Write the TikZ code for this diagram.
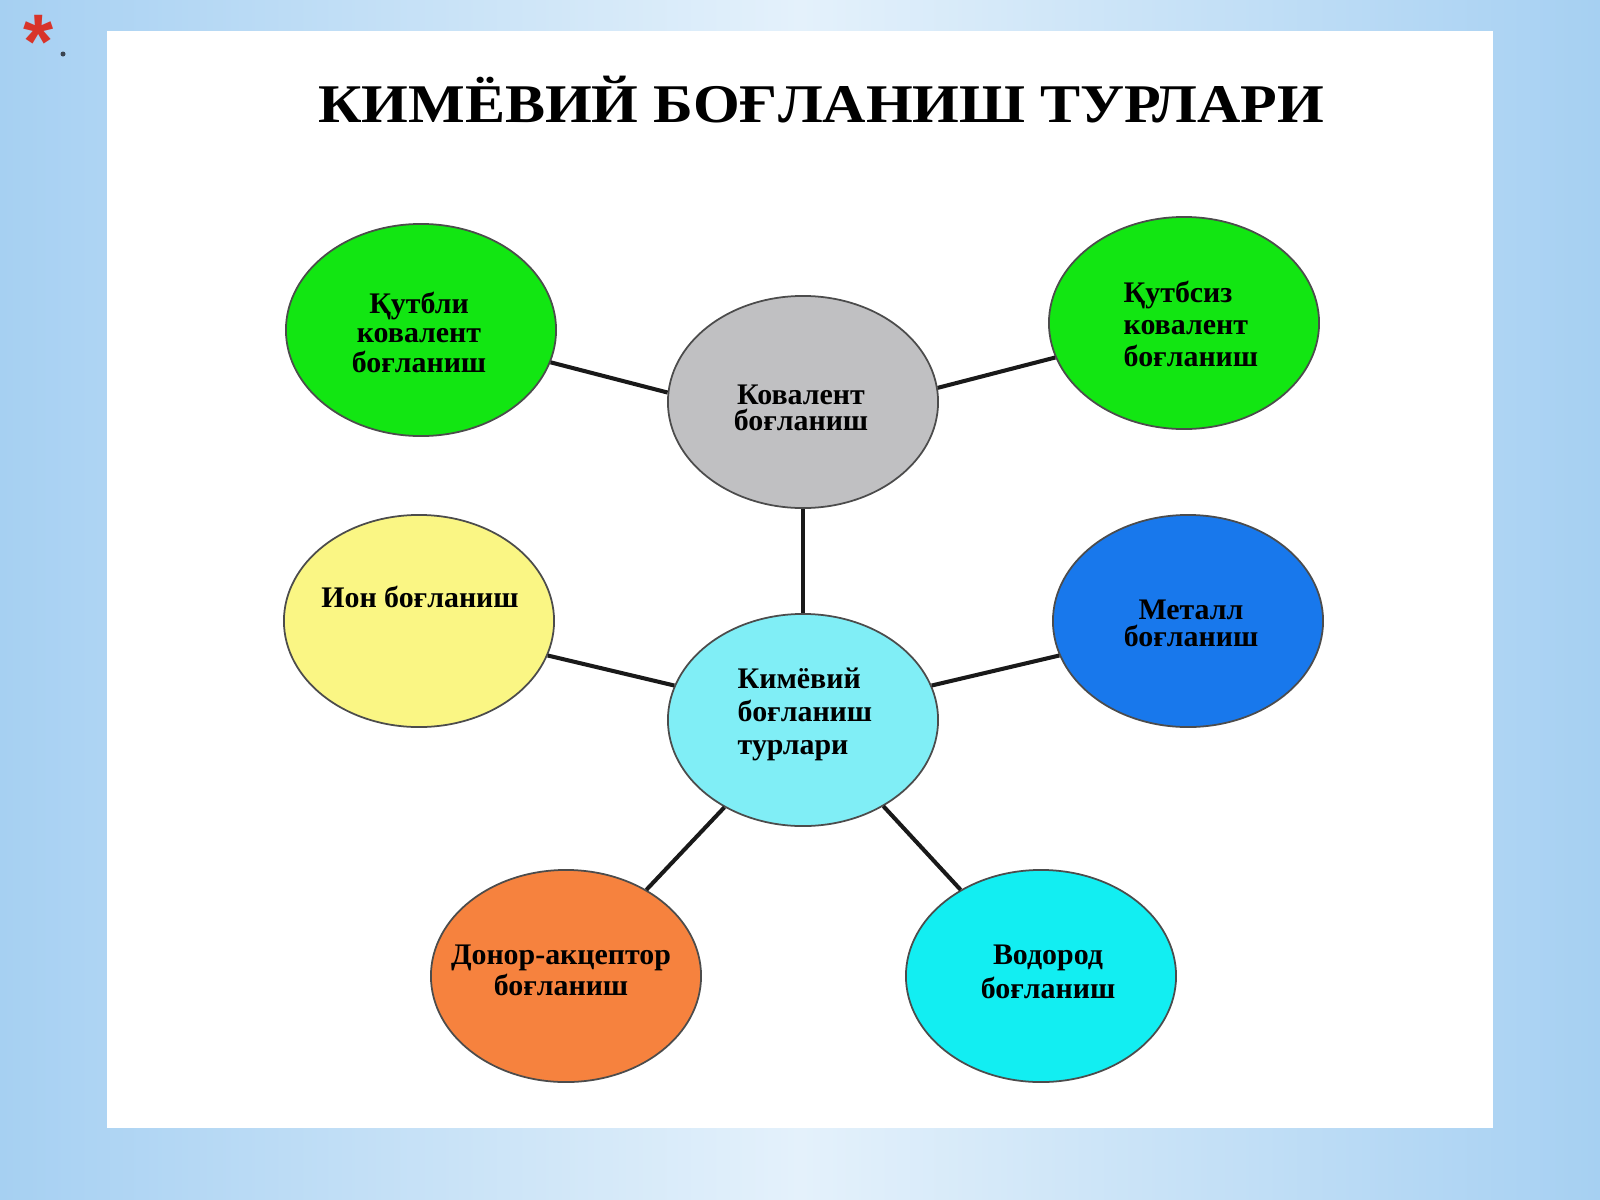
\documentclass[tikz,border=0pt]{standalone}
\usepackage{fontspec}
\setmainfont{Liberation Serif}
\usetikzlibrary{shapes.geometric}
\definecolor{bgedge}{HTML}{A6D0F2}
\definecolor{bgmid}{HTML}{E4F1FB}
\definecolor{cgreen}{HTML}{12E612}
\definecolor{cgray}{HTML}{C0C0C2}
\definecolor{cyellow}{HTML}{FAF684}
\definecolor{clcyan}{HTML}{80EEF6}
\definecolor{cblue}{HTML}{1878EC}
\definecolor{corange}{HTML}{F6823E}
\definecolor{ccyan}{HTML}{12EEF2}
\definecolor{cstar}{HTML}{D8342A}
\definecolor{cdot}{HTML}{3A4450}
\tikzset{
  bub/.style={ellipse, draw=black!70, line width=0.5pt, minimum width=2.7cm, minimum height=2.12cm, inner sep=0pt},
  lbl/.style={font=\bfseries\fontsize{8.5}{#1}\selectfont, text=black, inner sep=0pt},
  link/.style={line width=1.15pt, black!90}
}
\begin{document}
\begin{tikzpicture}[x=0.01cm,y=-0.01cm]
\useasboundingbox (0,0) rectangle (1600,1200);
\shade[left color=bgedge, right color=bgedge, middle color=bgmid] (0,0) rectangle (1600,1200);
\fill[white] (107,31) rectangle (1493,1128);
\node[text=cstar, font=\fontspec{Liberation Sans}\bfseries\fontsize{22}{22}\selectfont, inner sep=0pt] (star) at (39,42) {*};
\fill[cdot] (63,54) circle (2.5);
\node[anchor=base, inner sep=0pt, font=\bfseries\fontsize{15.5}{16}\selectfont] (title) at (821,122)
  {\resizebox{286pt}{\height}{КИМЁВИЙ БОҒЛАНИШ ТУРЛАРИ}};
% ellipses
\node[bub, fill=cgreen]  (qutbli)  at (421,330) {};
\node[bub, fill=cgreen]  (qutbsiz) at (1184,323) {};
\node[bub, fill=cgray]   (koval)   at (803,402) {};
\node[bub, fill=cyellow] (ion)     at (419,621) {};
\node[bub, fill=clcyan]  (kim)     at (803,720) {};
\node[bub, fill=cblue]   (metall)  at (1188,621) {};
\node[bub, fill=corange] (donor)   at (566,976) {};
\node[bub, fill=ccyan]   (vodorod) at (1041,976) {};
% connectors
\draw[link] (qutbli.-14) -- (koval.176);
\draw[link] (koval.6) -- (qutbsiz.-165);
\draw[link] (koval) -- (kim);
\draw[link] (ion.-15) -- (kim.165);
\draw[link] (kim.15) -- (metall.-165);
\draw[link] (kim.-132) -- (donor.47);
\draw[link] (kim.-47) -- (vodorod.133);
% labels
\node[lbl=8.4pt, align=center] (t1) at (419,332) {Қутбли\\ковалент\\боғланиш};
\node[lbl=9.1pt, align=left, anchor=west] (t2) at (1123,324) {Қутбсиз\\ковалент\\боғланиш};
\node[lbl=7.3pt, align=center] (t3) at (801,408) {Ковалент\\боғланиш};
\node[lbl=9pt, align=center] (t4) at (420,597) {Ион боғланиш};
\node[lbl=9.4pt, align=left, anchor=west] (t5) at (737,714) {Кимёвий\\боғланиш\\турлари};
\node[lbl=7.6pt, align=center] (t6) at (1191,623) {Металл\\боғланиш};
\node[lbl=7.8pt, align=center] (t7) at (561,970) {Донор-акцептор\\боғланиш};
\node[lbl=9.5pt, align=center] (t8) at (1048,972) {Водород\\боғланиш};
\end{tikzpicture}
\end{document}
